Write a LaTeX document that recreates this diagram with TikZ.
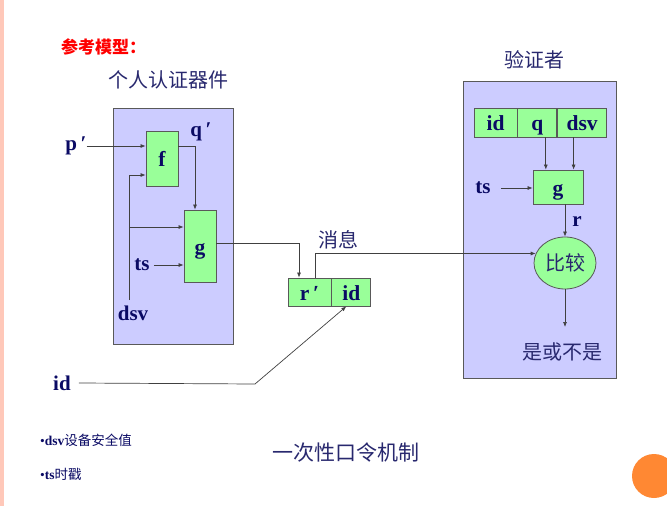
\documentclass[tikz,border=0pt]{standalone}
\usepackage{fontspec}
\setmainfont{Liberation Serif}
\newfontfamily\cjk{Noto Sans CJK SC}
\usetikzlibrary{shapes.geometric,arrows.meta,positioning}
\definecolor{navy}{RGB}{10,10,100}
\definecolor{cjkblue}{RGB}{40,40,110}
\definecolor{lav}{RGB}{204,204,255}
\definecolor{pale}{RGB}{153,255,153}
\definecolor{salmon}{RGB}{255,200,185}
\definecolor{dot}{RGB}{255,136,51}
\tikzset{
  panel/.style={draw=black!65,fill=lav,line width=0.8pt,inner sep=0pt},
  cell/.style={draw=black!65,fill=pale,line width=0.8pt,inner sep=0pt,text height=19pt,text depth=3pt,
    font=\fontsize{21.5}{21.5}\bfseries,text=navy},
  lbl/.style={font=\fontsize{21}{21}\bfseries,text=navy,inner sep=0pt},
  cn/.style={font=\cjk\fontsize{20}{20}\selectfont,text=cjkblue,inner sep=0pt},
  wire/.style={draw=black!75,line width=0.7pt},
  arr/.style={wire,-{Latex[length=5pt,width=4pt]}}
}
\begin{document}
\begin{tikzpicture}[x=1pt,y=-1pt]
  \useasboundingbox (0,0) rectangle (667,506);
  \fill[salmon] (0,0) rectangle (4,506);
  \fill[dot] (654,476) circle (22pt);

  \node[anchor=west,font=\cjk\fontsize{17}{17}\bfseries,text=red,inner sep=0pt] (model-title) at (61,47) {参考模型：};

  \node[cn] (device-title) at (168,80) {个人认证器件};
  \node[panel,minimum width=120pt,minimum height=236pt] (device) at (173,226) {};
  \node[cell,minimum width=32pt,minimum height=55pt] (f) at (162,158.5) {f};
  \node[cell,minimum width=32pt,minimum height=72pt] (g-dev) at (200,246) {g};
  \node[lbl] (p-in) at (76,146) {p\,′};
  \node[lbl] (q-out) at (201,132) {q\,′};
  \node[lbl] (dsv-in) at (133,313) {dsv};
  \node[lbl] (ts-dev) at (142,265) {ts};
  \coordinate (dsv-foot) at (129,300);
  \path ([yshift=19pt]g-dev.west) coordinate (g-in);

  \draw[arr] (p-in.east) -- (f.west |- p-in.east);
  \draw[arr] (f.east |- p-in.east) -| ([xshift=-5pt]g-dev.north);
  \draw[arr] (dsv-foot) |- ([yshift=-16.5pt]f.west);
  \draw[arr] (dsv-foot |- g-in) -- (g-in);
  \draw[arr] ([xshift=4pt]ts-dev.east) -- (g-dev.west |- ts-dev.east);

  \node[cn] (msg-title) at (338,240) {消息};
  \node[cell,minimum width=43pt,minimum height=28pt] (msg-r) at (309.5,292) {r\,′};
  \node[cell,minimum width=39pt,minimum height=28pt,right=0pt of msg-r] (msg-id) {id};
  \node[lbl] (id-in) at (62,383) {id};
  \coordinate (id-bend) at (255,384);

  \draw[arr] ([yshift=3pt]g-dev.east) -| ([xshift=-10.5pt]msg-r.north);
  \draw[arr] ([xshift=8pt]id-in.east) -- (id-bend) -- ([xshift=-5pt]msg-id.south);

  \node[cn] (verifier-title) at (534,60) {验证者};
  \node[panel,minimum width=153pt,minimum height=297pt] (verifier) at (539.5,229.5) {};
  \node[cell,minimum width=43pt,minimum height=29pt] (v-id) at (495.5,122.5) {id};
  \node[cell,minimum width=39pt,minimum height=29pt,right=0pt of v-id] (v-q) {q};
  \node[cell,minimum width=49pt,minimum height=29pt,right=0pt of v-q] (v-dsv) {dsv};
  \node[cell,minimum width=50pt,minimum height=34pt] (g-ver) at (558,187) {g};
  \node[lbl] (ts-ver) at (483,188) {ts};
  \node[lbl] (r-ver) at (577,222) {r};
  \node[ellipse,draw=black!65,fill=pale,line width=0.8pt,minimum width=62pt,minimum height=52pt,inner sep=0pt,
        font=\cjk\fontsize{20}{20}\selectfont,text=cjkblue] (cmp) at (565,263) {比较};
  \node[cn] (verdict) at (562,352) {是或不是};
  \coordinate (verdict-top) at (565,327);
  \path ([xshift=8.5pt]v-q.south) coordinate (q-down);
  \path ([xshift=-8.5pt]v-dsv.south) coordinate (dsv-down);

  \draw[arr] (q-down) -- (q-down |- g-ver.north);
  \draw[arr] (dsv-down) -- (dsv-down |- g-ver.north);
  \draw[arr] ([xshift=10pt]ts-ver.east) -- (g-ver.west |- ts-ver.east);
  \draw[arr] (g-ver.south -| cmp.north) -- (cmp.north);
  \draw[arr] (cmp.south) -- (verdict-top);
  \draw[arr] ([xshift=5.5pt]msg-r.north) |- (cmp.162);

  \node[anchor=west,inner sep=0pt,font=\fontsize{13.5}{13.5}\selectfont,text=navy] (note-dsv) at (40,440) {•\textbf{dsv}{\cjk 设备安全值}};
  \node[anchor=west,inner sep=0pt,font=\fontsize{13.5}{13.5}\selectfont,text=navy] (note-ts) at (40,474) {•\textbf{ts}{\cjk 时戳}};
  \node[cn,font=\cjk\fontsize{21}{21}\selectfont] (caption) at (346,453) {一次性口令机制};
\end{tikzpicture}
\end{document}
